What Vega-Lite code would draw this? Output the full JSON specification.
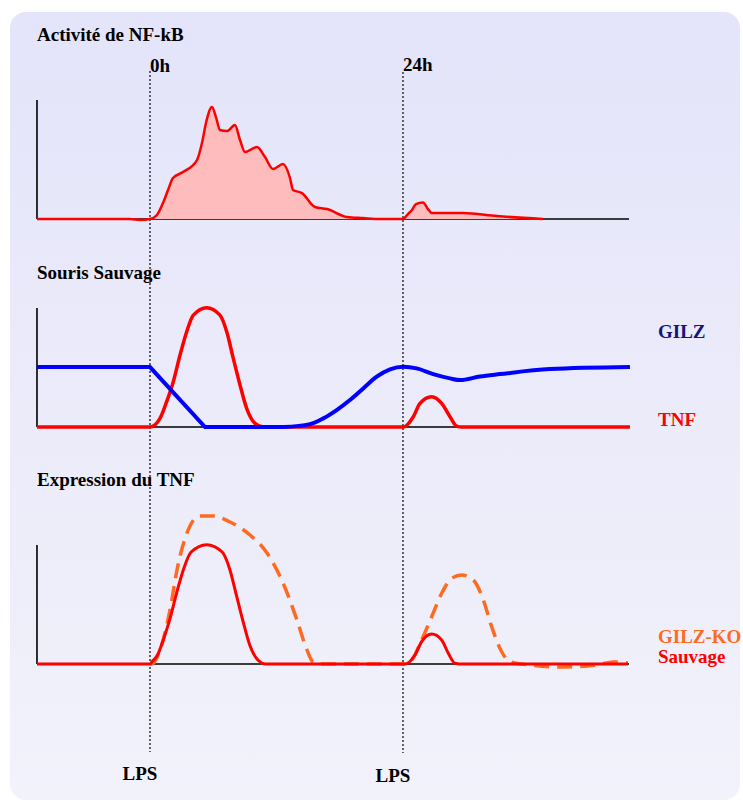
{
  "$schema": "https://vega.github.io/schema/vega-lite/v6.json",
  "width": 743,
  "height": 802,
  "autosize": {"type": "fit", "contains": "padding"},
  "padding": {"left": 10, "top": 12, "right": 3, "bottom": 2},
  "background": "white",
  "config": {
    "view": {"stroke": null},
    "text": {"font": "Liberation Serif", "fontWeight": "bold", "fontSize": 19, "baseline": "middle"}
  },
  "datasets": {
    "nfkb": [
      {"t": -10.72, "v": 0}, {"t": -1.9, "v": 0}, {"t": -0.95, "v": -0.8}, {"t": 0, "v": 0},
      {"t": 0.66, "v": 3.4}, {"t": 1.23, "v": 13.4}, {"t": 1.71, "v": 24.4}, {"t": 2.18, "v": 34.5},
      {"t": 3.13, "v": 39.5}, {"t": 4.46, "v": 49.6}, {"t": 4.93, "v": 63.9}, {"t": 5.31, "v": 80.7},
      {"t": 5.88, "v": 94.1}, {"t": 6.26, "v": 85.7}, {"t": 6.64, "v": 74.8}, {"t": 7.3, "v": 73.9},
      {"t": 8.06, "v": 79.0}, {"t": 8.54, "v": 66.4}, {"t": 9.01, "v": 56.3}, {"t": 10.15, "v": 60.5},
      {"t": 10.91, "v": 52.1}, {"t": 11.67, "v": 42.0}, {"t": 12.62, "v": 46.2}, {"t": 13.28, "v": 34.5},
      {"t": 13.57, "v": 24.4}, {"t": 14.42, "v": 21.8}, {"t": 15.65, "v": 10.1}, {"t": 16.79, "v": 8.4},
      {"t": 18.69, "v": 1.7}, {"t": 20.21, "v": 0.8}, {"t": 21.82, "v": 0}, {"t": 24, "v": 0},
      {"t": 24.47, "v": 4.2}, {"t": 24.85, "v": 7.6}, {"t": 25.23, "v": 12.6}, {"t": 25.9, "v": 13.9},
      {"t": 26.37, "v": 8.4}, {"t": 26.75, "v": 5.0}, {"t": 27.5, "v": 5.0}, {"t": 29.69, "v": 5.0},
      {"t": 32.92, "v": 2.5}, {"t": 37.28, "v": 0}
    ],
    "gilz_drop": [
      {"t": -10.72, "v": 50.4}, {"t": 0, "v": 50.4}, {"t": 5.22, "v": 0}, {"t": 12.62, "v": 0}
    ],
    "gilz_rise": [
      {"t": 12.62, "v": 0}, {"t": 15.18, "v": 2.5}, {"t": 16.44, "v": 7.3}, {"t": 17.71, "v": 14.3},
      {"t": 18.97, "v": 22.7}, {"t": 20.23, "v": 32.5}, {"t": 21.51, "v": 42.3}, {"t": 22.77, "v": 48.5},
      {"t": 24.03, "v": 50.7}, {"t": 25.3, "v": 49.3}, {"t": 26.87, "v": 44.5}, {"t": 28.46, "v": 40.9},
      {"t": 29.41, "v": 39.5}, {"t": 31.3, "v": 42.5}, {"t": 33.2, "v": 44.5}, {"t": 37.94, "v": 48.7},
      {"t": 45.53, "v": 50.4}
    ],
    "tnf_wt": [
      {"t": -10.72, "v": 0}, {"t": 0, "v": 0}, {"t": 0.95, "v": 7.3}, {"t": 1.58, "v": 21.3},
      {"t": 2.21, "v": 38.1}, {"t": 2.85, "v": 60.5}, {"t": 3.48, "v": 80.1}, {"t": 4.11, "v": 94.1},
      {"t": 5.38, "v": 100.3}, {"t": 6.64, "v": 94.1}, {"t": 7.28, "v": 80.1}, {"t": 7.9, "v": 57.7},
      {"t": 8.54, "v": 35.3}, {"t": 9.17, "v": 15.7}, {"t": 9.96, "v": 3.1}, {"t": 10.75, "v": 0},
      {"t": 24.03, "v": 0}, {"t": 24.98, "v": 8.7}, {"t": 25.61, "v": 19.9}, {"t": 26.72, "v": 25.5},
      {"t": 27.67, "v": 19.9}, {"t": 28.46, "v": 8.7}, {"t": 29.09, "v": 0.8}, {"t": 29.6, "v": 0},
      {"t": 45.53, "v": 0}
    ],
    "tnf_expr": [
      {"t": -10.72, "v": 0}, {"t": 0, "v": 0}, {"t": 0.2, "v": 2.0}, {"t": 0.7, "v": 7.3},
      {"t": 1.3, "v": 21.3}, {"t": 1.9, "v": 38.1}, {"t": 2.55, "v": 60.5}, {"t": 3.2, "v": 80.1},
      {"t": 3.9, "v": 94.1}, {"t": 5.38, "v": 100.3}, {"t": 6.85, "v": 94.1}, {"t": 7.55, "v": 80.1},
      {"t": 8.2, "v": 57.7}, {"t": 8.84, "v": 35.3}, {"t": 9.47, "v": 15.7}, {"t": 10.26, "v": 3.1},
      {"t": 10.95, "v": 0}, {"t": 24.19, "v": 0}, {"t": 25.14, "v": 7.6}, {"t": 25.77, "v": 18.8},
      {"t": 26.72, "v": 25.2}, {"t": 27.67, "v": 20.2}, {"t": 28.3, "v": 9.0}, {"t": 28.93, "v": 0.6},
      {"t": 29.4, "v": 0}, {"t": 45.34, "v": 0}
    ],
    "tnf_ko": [
      {"t": 0, "v": 0}, {"t": 0.19, "v": 0}, {"t": 0.95, "v": 11.8}, {"t": 1.9, "v": 45.4},
      {"t": 2.56, "v": 79.0}, {"t": 3.51, "v": 110.1}, {"t": 4.74, "v": 124.4}, {"t": 5.98, "v": 124.4},
      {"t": 7.59, "v": 119.3}, {"t": 9.49, "v": 108.4}, {"t": 11.1, "v": 93.3}, {"t": 12.62, "v": 68.1},
      {"t": 13.94, "v": 37.0}, {"t": 14.89, "v": 11.8}, {"t": 15.46, "v": 1.7}, {"t": 16.13, "v": 0},
      {"t": 24, "v": 0}, {"t": 24.82, "v": 3.4}, {"t": 25.77, "v": 20.2}, {"t": 26.72, "v": 39.7},
      {"t": 27.67, "v": 59.4}, {"t": 28.62, "v": 72.0}, {"t": 29.57, "v": 74.8}, {"t": 30.67, "v": 70.6},
      {"t": 31.62, "v": 53.8}, {"t": 32.41, "v": 31.4}, {"t": 33.36, "v": 10.3}, {"t": 34.15, "v": 1.9},
      {"t": 35.26, "v": 0}, {"t": 39.18, "v": -2.5}, {"t": 42.4, "v": -0.8}, {"t": 43.92, "v": 1.7},
      {"t": 45.34, "v": 0.8}
    ],
    "frame": [
      {"t": -10.72, "t2": 45.44, "v": 0, "v2": 0},
      {"t": -10.72, "t2": -10.72, "v": 0, "v2": 100}
    ],
    "lps": [
      {"t": 0, "v": 124.4, "v2": -447.9},
      {"t": 24, "v": 123.5, "v2": -448.7}
    ]
  },
  "layer": [
    {
      "data": {"values": [{}]},
      "mark": {
        "type": "rect",
        "cornerRadius": 16,
        "color": {
          "gradient": "linear", "x1": 0, "y1": 0, "x2": 0, "y2": 1,
          "stops": [{"offset": 0, "color": "#e4e4fa"}, {"offset": 1, "color": "#f2f2fb"}]
        }
      }
    },
    {
      "encoding": {
        "x": {"field": "t", "type": "quantitative", "scale": {"domain": [-13.28, 55.97], "nice": false, "zero": false}, "axis": null},
        "y": {"field": "v", "type": "quantitative", "scale": {"domain": [-488.2, 174.0], "nice": false, "zero": false}, "axis": null}
      },
      "layer": [
        {
          "data": {"name": "lps"},
          "mark": {"type": "rule", "color": "#333333", "strokeWidth": 1.5, "strokeDash": [2, 2]},
          "encoding": {"y2": {"field": "v2"}}
        },
        {
          "data": {"name": "frame"},
          "mark": {"type": "rule", "color": "#000000", "strokeWidth": 1.6},
          "encoding": {"x2": {"field": "t2"}, "y2": {"field": "v2"}}
        },
        {
          "data": {"name": "nfkb"},
          "mark": {"type": "area", "interpolate": "monotone", "color": "#ffbcbc", "opacity": 1,
                   "line": {"color": "#ff0000", "strokeWidth": 2.5}},
          "encoding": {"y2": {"datum": 0}}
        },
        {
          "data": {"values": [
            {"t": -10.72, "v": 154.6, "label": "Activité de NF-kB"},
            {"t": 0, "v": 128.6, "label": "0h"},
            {"t": 24, "v": 129.4, "label": "24h"}
          ]},
          "mark": {"type": "text", "align": "left", "color": "#000000"},
          "encoding": {"text": {"field": "label"}}
        }
      ]
    },
    {
      "encoding": {
        "x": {"field": "t", "type": "quantitative", "scale": {"domain": [-13.28, 55.97], "nice": false, "zero": false}, "axis": null},
        "y": {"field": "v", "type": "quantitative", "scale": {"domain": [-313.4, 348.8], "nice": false, "zero": false}, "axis": null}
      },
      "layer": [
        {
          "data": {"name": "frame"},
          "mark": {"type": "rule", "color": "#000000", "strokeWidth": 1.6},
          "encoding": {"x2": {"field": "t2"}, "y2": {"field": "v2"}}
        },
        {
          "data": {"name": "tnf_wt"},
          "mark": {"type": "line", "interpolate": "monotone", "color": "#ff0000", "strokeWidth": 3.5}
        },
        {
          "data": {"name": "gilz_drop"},
          "mark": {"type": "line", "color": "#0000ff", "strokeWidth": 4}
        },
        {
          "data": {"name": "gilz_rise"},
          "mark": {"type": "line", "interpolate": "monotone", "color": "#0000ff", "strokeWidth": 4}
        },
        {
          "data": {"values": [
            {"t": -10.72, "v": 129.4, "label": "Souris Sauvage"},
            {"t": 48.19, "v": 79.8, "label": "GILZ"},
            {"t": 48.19, "v": 5.9, "label": "TNF"}
          ]},
          "mark": {"type": "text", "align": "left"},
          "encoding": {
            "text": {"field": "label"},
            "color": {
              "condition": [
                {"test": "datum.label == 'GILZ'", "value": "#14147d"},
                {"test": "datum.label == 'TNF'", "value": "#ff0000"}
              ],
              "value": "#000000"
            }
          }
        }
      ]
    },
    {
      "encoding": {
        "x": {"field": "t", "type": "quantitative", "scale": {"domain": [-13.28, 55.97], "nice": false, "zero": false}, "axis": null},
        "y": {"field": "v", "type": "quantitative", "scale": {"domain": [-114.3, 547.9], "nice": false, "zero": false}, "axis": null}
      },
      "layer": [
        {
          "data": {"name": "frame"},
          "mark": {"type": "rule", "color": "#000000", "strokeWidth": 1.6},
          "encoding": {"x2": {"field": "t2"}, "y2": {"field": "v2"}}
        },
        {
          "data": {"name": "tnf_ko"},
          "mark": {"type": "line", "interpolate": "monotone", "color": "#ff6a21", "strokeWidth": 3.5, "strokeDash": [15, 8]}
        },
        {
          "data": {"name": "tnf_expr"},
          "mark": {"type": "line", "interpolate": "monotone", "color": "#ff0000", "strokeWidth": 3}
        },
        {
          "data": {"values": [
            {"t": -10.72, "v": 154.6, "label": "Expression du TNF"},
            {"t": 48.19, "v": 22.9, "label": "GILZ-KO"},
            {"t": 48.19, "v": 6.1, "label": "Sauvage"}
          ]},
          "mark": {"type": "text", "align": "left"},
          "encoding": {
            "text": {"field": "label"},
            "color": {
              "condition": [
                {"test": "datum.label == 'GILZ-KO'", "value": "#ff6a21"},
                {"test": "datum.label == 'Sauvage'", "value": "#ff0000"}
              ],
              "value": "#000000"
            }
          }
        },
        {
          "data": {"values": [
            {"t": -0.95, "v": -92.4, "label": "LPS"},
            {"t": 23.05, "v": -94.1, "label": "LPS"}
          ]},
          "mark": {"type": "text", "align": "center", "color": "#000000"},
          "encoding": {"text": {"field": "label"}}
        }
      ]
    }
  ],
  "resolve": {"scale": {"y": "independent"}}
}
